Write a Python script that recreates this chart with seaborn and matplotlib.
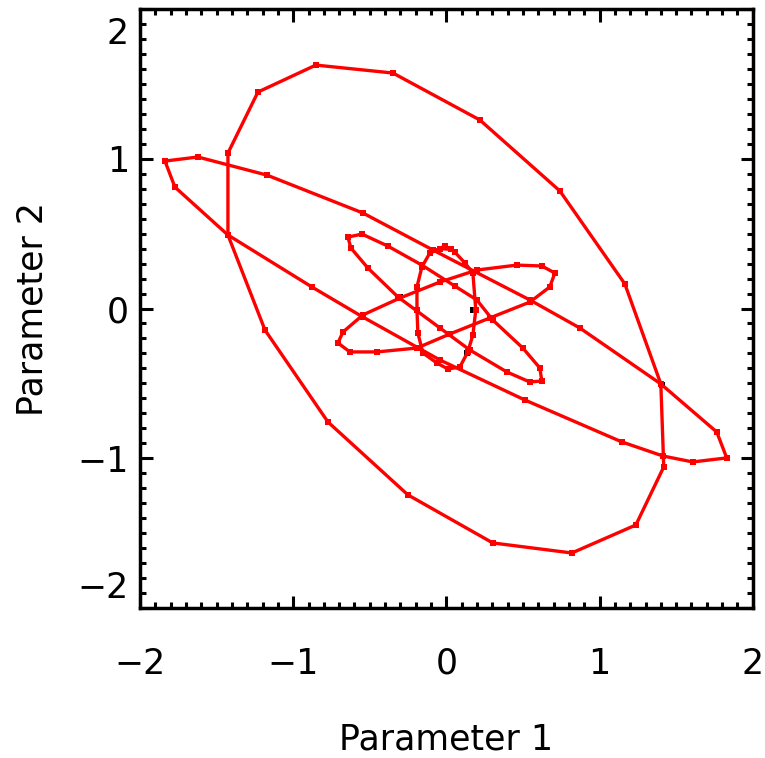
import pandas as pd
import numpy as np
import matplotlib
matplotlib.use("Agg")
import matplotlib.pyplot as plt
import matplotlib.transforms as mtransforms
import seaborn as sns
from matplotlib.ticker import MultipleLocator

# ----------------------------
# Trajectory values
# ----------------------------

# outer wide orbit
outer_p1 = [-1.426, -1.230, -0.852, -0.349, 0.219, 0.741, 1.165, 1.400, 1.419,
            1.237, 0.819, 0.303, -0.251, -0.773, -1.184, -1.426, -1.426]
outer_p2 = [1.038, 1.446, 1.626, 1.573, 1.259, 0.785, 0.164, -0.504, -1.058,
            -1.446, -1.633, -1.566, -1.245, -0.758, -0.144, 0.491, 1.038]

# long thin orbit
long_p1 = [-1.837, -1.622, -1.171, -0.545, -0.088, 0.545, 0.871, 1.400, 1.765,
           1.830, 1.608, 1.413, 1.145, 0.512, -0.042, -0.545, -0.878, -1.426,
           -1.772, -1.837]
long_p2 = [0.985, 1.012, 0.891, 0.638, 0.391, 0.057, -0.130, -0.504, -0.825,
           -0.998, -1.025, -0.985, -0.891, -0.611, -0.344, -0.057, 0.144, 0.491,
           0.811, 0.985]

# small orbit tilted down to the right
tilt_p1 = [-0.643, -0.551, -0.382, -0.160, 0.055, 0.199, 0.303, 0.499, 0.610,
           0.623, 0.545, 0.395, 0.153, -0.042, -0.316, -0.512, -0.623, -0.643]
tilt_p2 = [0.477, 0.497, 0.417, 0.290, 0.150, 0.057, -0.077, -0.264, -0.397,
           -0.484, -0.491, -0.424, -0.277, -0.130, 0.077, 0.270, 0.404, 0.477]

# small orbit tilted up to the right
flat_p1 = [-0.708, -0.675, -0.545, -0.303, -0.042, 0.199, 0.460, 0.623, 0.708,
           0.675, 0.545, 0.284, 0.023, -0.192, -0.453, -0.630, -0.708]
flat_p2 = [-0.230, -0.157, -0.043, 0.070, 0.177, 0.257, 0.290, 0.284, 0.237,
           0.144, 0.043, -0.063, -0.170, -0.264, -0.290, -0.290, -0.230]

# near-vertical inner orbit
vert_p1 = [-0.108, -0.010, 0.055, 0.121, 0.173, 0.192, 0.173, 0.140, 0.088,
           0.010, -0.062, -0.153, -0.186, -0.192, -0.192, -0.160, -0.108,
           -0.040, 0.030]
vert_p2 = [0.371, 0.417, 0.377, 0.304, 0.237, -0.010, -0.177, -0.290, -0.391,
           -0.404, -0.364, -0.297, -0.164, -0.010, 0.144, 0.277, 0.371,
           0.400, 0.395]

# samples marked in black
sample_p1 = [-0.303, 0.199, 0.173, 0.134, 1.406, 1.237]
sample_p2 = [0.077, 0.257, -0.010, -0.297, -0.511, -1.446]

tick_vals = [-2, -1, 0, 1, 2]
tick_text = ["\u22122", "\u22121", "0", "1", "2"]

loops = {
    "outer": (outer_p1, outer_p2),
    "long": (long_p1, long_p2),
    "tilt": (tilt_p1, tilt_p2),
    "flat": (flat_p1, flat_p2),
    "vert": (vert_p1, vert_p2),
}

df = pd.concat(
    [pd.DataFrame({"p1": a, "p2": b, "loop": name}) for name, (a, b) in loops.items()],
    ignore_index=True,
)
samples = pd.DataFrame({"p1": sample_p1, "p2": sample_p2})

# ----------------------------
# Plot
# ----------------------------

sns.set_style("white")
plt.rcParams["font.family"] = ["DejaVu Sans"]
plt.rcParams["text.color"] = "black"
plt.rcParams["axes.labelcolor"] = "black"
plt.rcParams["xtick.color"] = "black"
plt.rcParams["ytick.color"] = "black"

fig = plt.figure(figsize=(7.65, 7.58), dpi=100)
ax = fig.add_axes([0.183, 0.198, 0.801, 0.790])

sns.scatterplot(data=samples, x="p1", y="p2", color="black", marker="s",
                s=25, linewidth=0, ax=ax, zorder=2)

sns.lineplot(data=df, x="p1", y="p2", units="loop", estimator=None, sort=False,
             color="red", linewidth=2.4, marker="s", markersize=4,
             markeredgewidth=0, ax=ax, zorder=3)

ax.set_xlim(-2, 2)
ax.set_ylim(-2, 2)
ax.set_xticks(tick_vals, labels=tick_text)
ax.set_yticks(tick_vals, labels=tick_text)
ax.xaxis.set_minor_locator(MultipleLocator(0.1))
ax.yaxis.set_minor_locator(MultipleLocator(0.1))

ax.tick_params(which="both", direction="in", top=True, right=True,
               bottom=True, left=True, color="black")
ax.tick_params(which="major", length=9, width=2.2)
ax.tick_params(which="minor", length=4.5, width=2.2)
ax.tick_params(axis="x", which="major", pad=28, labelsize=25)
ax.tick_params(axis="y", which="major", pad=8, labelsize=25)

for s in ax.spines.values():
    s.set_linewidth(2.5)
    s.set_color("black")

# keep the end labels of the y axis inside the frame, as in the reference
ylabels = ax.get_yticklabels()
ylabels[0].set_verticalalignment("bottom")
ylabels[0].set_transform(ylabels[0].get_transform() +
                         mtransforms.ScaledTranslation(0, 2 / 72, fig.dpi_scale_trans))
ylabels[-1].set_verticalalignment("top")
ylabels[-1].set_transform(ylabels[-1].get_transform() +
                          mtransforms.ScaledTranslation(0, -6 / 72, fig.dpi_scale_trans))

ax.set_xlabel("Parameter 1", fontsize=25, labelpad=30)
ax.set_ylabel("Parameter 2", fontsize=25, labelpad=20)

plt.savefig("out.png", dpi=100)
